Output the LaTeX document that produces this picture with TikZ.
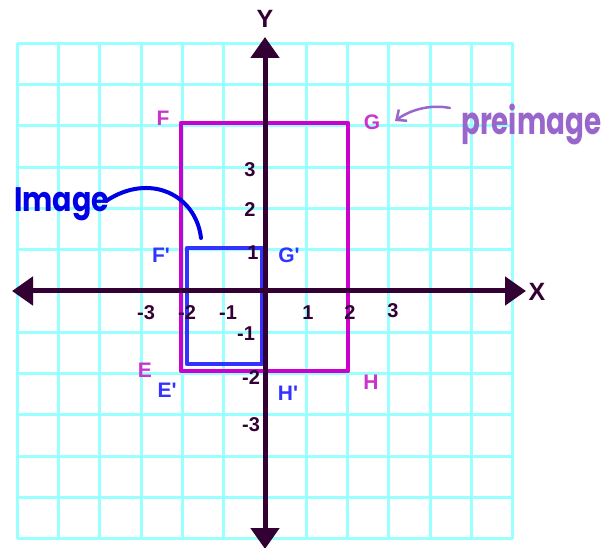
\documentclass[tikz,border=0pt]{standalone}
\usepackage{fontspec}
\setmainfont{Liberation Sans}
\newfontfamily\handfont{Poppins}
\usetikzlibrary{arrows.meta}
\definecolor{gridc}{HTML}{99FFFF}
\definecolor{axisc}{HTML}{330033}
\definecolor{magc}{HTML}{CC00CC}
\definecolor{maglab}{HTML}{CC33CC}
\definecolor{bluec}{HTML}{3333FF}
\definecolor{inkblue}{HTML}{0000E6}
\definecolor{inkpurple}{HTML}{9966CC}
\newcommand{\pr}{\textquotesingle}
\begin{document}
\begin{tikzpicture}[x=1pt,y=-1pt,
  gridline/.style={gridc,line width=3pt},
  axisline/.style={axisc,line width=5pt,{Triangle[length=21pt,width=28pt]}-{Triangle[length=21pt,width=28pt]}},
  prerect/.style={magc,line width=4.5pt,line join=round},
  imgrect/.style={bluec,line width=4.5pt,line join=round},
  ticklab/.style={text=axisc,font=\fontsize{20}{20}\selectfont\bfseries,inner sep=0pt},
  axlab/.style={text=axisc,font=\fontsize{25}{25}\selectfont\bfseries,inner sep=0pt},
  prelab/.style={text=maglab,font=\fontsize{21}{21}\selectfont\bfseries,inner sep=0pt},
  imglab/.style={text=bluec,font=\fontsize{21}{21}\selectfont\bfseries,inner sep=0pt},
  hand/.style={inner sep=0pt}]
\useasboundingbox (0,0) rectangle (606,548);
% grid
\foreach \i in {0,...,12}{
  \draw[gridline] ({17.2+41.3*\i},43.2) -- ({17.2+41.3*\i},538.8);
  \draw[gridline] (17.2,{43.2+41.3*\i}) -- (512.8,{43.2+41.3*\i});
}
% preimage rectangle
\coordinate (F0) at (181,123);
\coordinate (G0) at (348,123);
\coordinate (H0) at (348,371);
\coordinate (E0) at (181,371);
\draw[prerect] (F0) -- (G0) -- (H0) -- (E0) -- cycle;
% image rectangle
\coordinate (F1) at (187,248);
\coordinate (G1) at (262,248);
\coordinate (H1) at (262,364);
\coordinate (E1) at (187,364);
\draw[imgrect] (F1) -- (G1) -- (H1) -- (E1) -- cycle;
% axes
\coordinate (ytop) at (265,37);
\coordinate (ybot) at (265,549);
\coordinate (xl) at (12,291);
\coordinate (xr) at (526,291);
\draw[axisline] (ybot) -- (ytop);
\draw[axisline] (xl) -- (xr);
\node[axlab] (Ylab) at (265,19) {Y};
\node[axlab] (Xlab) at (537,292) {X};
% tick labels
\node[ticklab] (x3n) at (146,313) {-3};
\node[ticklab] (x2n) at (187,313) {-2};
\node[ticklab] (x1n) at (228,313) {-1};
\node[ticklab] (x1) at (308,313) {1};
\node[ticklab] (x2) at (350,313) {2};
\node[ticklab] (x3) at (393,311) {3};
\node[ticklab] (y3) at (250,170) {3};
\node[ticklab] (y2) at (250,210) {2};
\node[ticklab] (y1) at (253,253) {1};
\node[ticklab] (y1n) at (246,334) {-1};
\node[ticklab] (y2n) at (251,378) {-2};
\node[ticklab] (y3n) at (251,425) {-3};
% vertex labels
\node[prelab] (F) at (163,118) {F};
\node[prelab] (G) at (372,122) {G};
\node[prelab] (E) at (145,370) {E};
\node[prelab] (H) at (371,382) {H};
\node[imglab] (F') at (161,255) {F\pr};
\node[imglab] (G') at (289,255) {G\pr};
\node[imglab] (E') at (167,390) {E\pr};
\node[imglab] (H') at (288,393) {H\pr};
% handwritten notes
\node[hand,text=inkblue,anchor=base west] (imgnote) at (14,212)
  {\scalebox{0.84}[1]{\fontsize{34}{34}\handfont\bfseries Image}};
\coordinate (imgend) at (201,238);
\draw[inkblue,line width=4pt,line cap=round] ([xshift=-3pt,yshift=4pt]imgnote.east) .. controls (150,172) and (196,195) .. (imgend);
\node[hand,text=inkpurple,anchor=base west] (prenote) at (461,135)
  {\scalebox{0.73}[1]{\fontsize{38}{38}\handfont\bfseries preimage}};
\coordinate (Gtip) at (395,121);
\draw[inkpurple,line width=2.5pt,line cap=round,-{Straight Barb[length=8pt,width=14pt]}] ([xshift=-11pt,yshift=17pt]prenote.west) .. controls (430,104) and (410,110) .. (Gtip);
\end{tikzpicture}
\end{document}
